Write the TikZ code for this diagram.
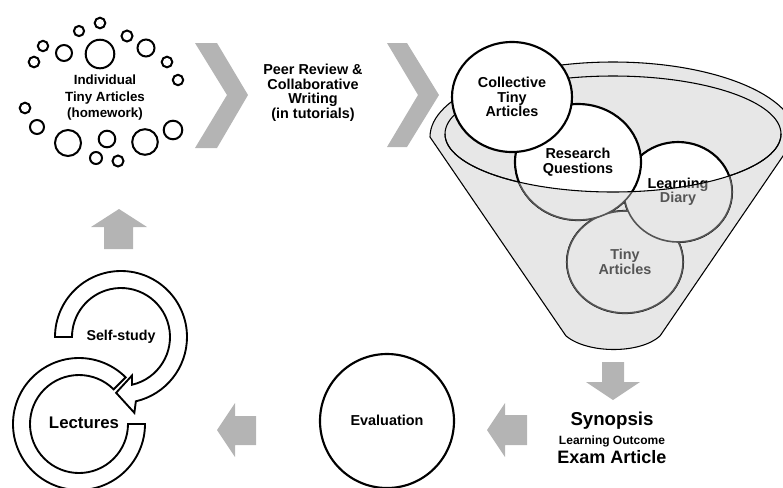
\documentclass[tikz,border=0pt]{standalone}
\usepackage{fontspec}
\setmainfont{Liberation Sans}

\definecolor{shapegray}{RGB}{180,180,180}
\definecolor{funnelgray}{RGB}{231,231,231}
\definecolor{wallgray}{RGB}{85,85,85}

\newcommand{\fsz}[2]{\fontsize{#1}{#2}\selectfont\bfseries}

\tikzset{
  txt/.style={align=center, inner sep=0pt, font=\fsz{10.8}{10.9}},
  dot/.style={draw, line width=1.5pt, fill=white},
  chevron/.style={fill=shapegray},
  blockarrow/.style={fill=shapegray},
  ring/.style={draw, line width=1.4pt, fill=white},
  bubble/.style={draw, line width=1.6pt, fill=white},
  bubbletext/.style={txt},
  funnel/.style={draw, line width=0.8pt, fill=funnelgray},
}

% one circle of the funnel with its text
\newcommand{\funnelbubble}[6]{%
  \draw[bubble] (#2,#3) ellipse [x radius=#4, y radius=#5];
  \node[bubbletext] (#1) at (#2,#3) {#6};}

\begin{document}
\begin{tikzpicture}[x=0.75pt,y=-0.75pt]
    \clip (0,0) rectangle (783,487);

    % small circles round the homework
    \foreach \x/\y/\r in {100/23/5.3, 79/31/5.1, 43/46/5.2, 34/62/5.3, 64/53/8,
        100/54/14.3, 127/36/5.5, 146/48/8.5, 167/62/5.3, 178/80/5.2, 25/108/5.3,
        37/127/7, 68/143/13, 107/139/8.3, 96/158/6, 118/161/5.5, 145/142/12.8,
        173/130/9.3}
      \draw[dot] (\x,\y) circle[radius=\r];
    \node[txt, font=\fsz{10}{12.4}] (indiv) at (105,98) {Individual\\Tiny Articles\\(homework)};

    % chevrons
    \fill[chevron] (195,43) -- (217,43) -- (248,95) -- (217,148) -- (195,148) -- (227,95) -- cycle;
    \fill[chevron] (387,43) -- (407,43) -- (439,95) -- (407,147) -- (387,147) -- (418,95) -- cycle;
    \node[txt] (peer) at (313,93) {Peer Review \&\\Collaborative\\Writing\\(in tutorials)};

    % funnel
    \draw[funnel] (430,137) arc[start angle=180, end angle=360, x radius=183, y radius=75]
      -- (660,336) .. controls (640,354) and (588,354) .. (566,336) -- cycle;
    \draw[funnel] (613,134) ellipse[x radius=168, y radius=58];

    \funnelbubble{ta}{625}{262}{58}{51}{Tiny\\Articles}
    \funnelbubble{ld}{678}{192}{54}{50}{Learning\\Diary}
    \funnelbubble{rq}{578}{162}{63}{58}{Research\\Questions}
    \funnelbubble{cta}{512}{97}{60}{55}{Collective\\Tiny\\Articles}

    % front wall of the funnel
    \begin{scope}[bubble/.style={draw=wallgray, line width=1.2pt, fill=funnelgray},
                  bubbletext/.style={txt, text=wallgray}]
      \clip (445,134) arc[start angle=180, end angle=0, x radius=168, y radius=58]
        -- (796,137) -- (660,336) .. controls (640,354) and (588,354) .. (566,336)
        -- (430,137) -- cycle;
      \funnelbubble{ta-w}{625}{262}{58}{51}{Tiny\\Articles}
      \funnelbubble{ld-w}{678}{192}{54}{50}{Learning\\Diary}
      \funnelbubble{rq-w}{578}{162}{63}{58}{Research\\Questions}
    \end{scope}
    \draw[line width=0.8pt] (445,134) arc[start angle=180, end angle=0, x radius=168, y radius=58];

    % result
    \fill[blockarrow] (602,362) -- (624,362) -- (624,382) -- (640,382) -- (613,400) -- (586,382) -- (602,382) -- cycle;
    \node[font=\fsz{14}{14}, inner sep=0pt] (syn) at (612,421) {Synopsis};
    \node[font=\fsz{9}{9}, inner sep=0pt] (outc) at (612,441) {Learning Outcome};
    \node[font=\fsz{13.5}{13.5}, inner sep=0pt] (exam) at (612,457) {Exam Article};

    \fill[blockarrow] (527,415) -- (527,445) -- (505,445) -- (505,457) -- (487,430) -- (505,403) -- (505,415) -- cycle;
    \draw[line width=1.6pt] (387,421) circle[radius=67];
    \node[txt] (eval) at (387,420) {Evaluation};

    \fill[blockarrow] (256,416) -- (256,445) -- (235,445) -- (235,457) -- (217,430) -- (235,403) -- (235,416) -- cycle;

    % lectures and self-study
    \begin{scope}[shift={(79,424)}]
      \draw[ring] (0:66) arc[start angle=0, end angle=315, radius=66]
        -- (315:49) arc[start angle=315, end angle=0, radius=49] -- cycle;
    \end{scope}
    \begin{scope}[shift={(121,337)}]
      \draw[ring] (180:49) -- (180:66) arc[start angle=180, end angle=437, radius=66]
        -- (440:77) -- (455:56) -- (434:40) -- (437:49)
        arc[start angle=437, end angle=180, radius=49] -- cycle;
    \end{scope}
    \node[txt, font=\fsz{12.6}{12.6}] (lect) at (84,423) {Lectures};
    \node[txt, font=\fsz{10.7}{10.7}] (self) at (121,337) {Self-study};

    \fill[blockarrow] (104,249) -- (104,227) -- (91,227) -- (119,209) -- (147,227) -- (133,227) -- (133,249) -- cycle;
\end{tikzpicture}
\end{document}
